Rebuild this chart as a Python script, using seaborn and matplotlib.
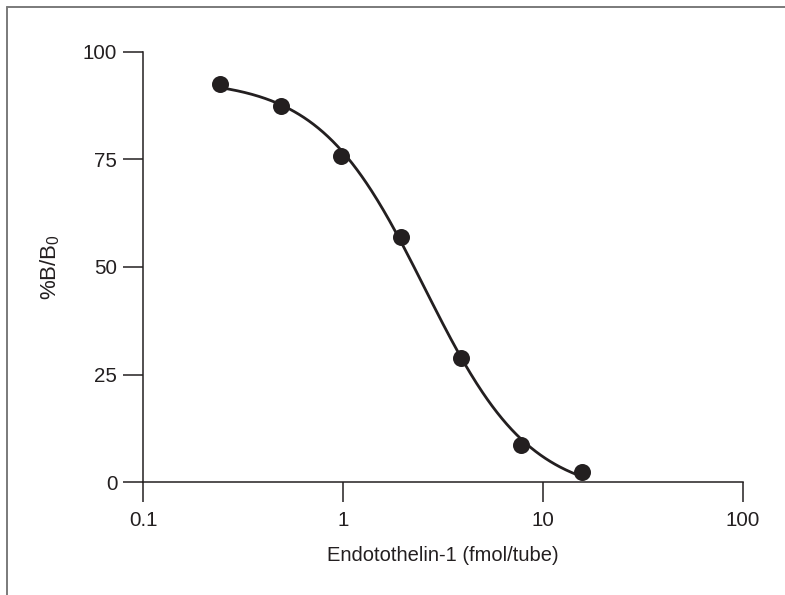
import numpy as np
import pandas as pd
import matplotlib
matplotlib.use("Agg")
import matplotlib.pyplot as plt
from matplotlib.lines import Line2D
import seaborn as sns

# Standard curve: Endothelin-1 amount per tube vs. percent bound
conc_fmol = [0.244, 0.488, 0.977, 1.95, 3.9, 7.8, 15.6]
pct_bound = [92.5, 87.4, 75.8, 57.0, 28.9, 8.7, 2.3]
x_ticks = [0.1, 1, 10, 100]
x_tick_labels = ["0.1", "1", "10", "100"]
y_ticks = [0, 25, 50, 75, 100]

ink = "#231f20"

sns.set_theme(style="white")
plt.rcParams["font.family"] = ["Liberation Sans", "DejaVu Sans"]
plt.rcParams["mathtext.fontset"] = "custom"
plt.rcParams["mathtext.rm"] = "Liberation Sans"
plt.rcParams["mathtext.it"] = "Liberation Sans"


def four_pl(x, bottom, top, c, h):
    return bottom + (top - bottom) / (1.0 + (x / c) ** h)


def fit_four_pl(x, y):
    """Grid search over midpoint and slope; top/bottom solved by least squares."""
    x = np.asarray(x, float)
    y = np.asarray(y, float)
    best = None
    for logc in np.arange(-0.2, 1.2, 0.004):
        c = 10 ** logc
        for h in np.arange(0.5, 3.0, 0.01):
            f = 1.0 / (1.0 + (x / c) ** h)
            A = np.column_stack([np.ones_like(x), f])
            coef, *_ = np.linalg.lstsq(A, y, rcond=None)
            sse = np.sum((A @ coef - y) ** 2)
            if best is None or sse < best[0]:
                best = (sse, coef[0], coef[0] + coef[1], c, h)
    return best[1:]


bottom, top, c50, hill = fit_four_pl(conc_fmol, pct_bound)
x_fit = np.logspace(np.log10(conc_fmol[0]), np.log10(conc_fmol[-1]), 300)
fit_df = pd.DataFrame({"conc": x_fit, "pct": four_pl(x_fit, bottom, top, c50, hill)})
pts_df = pd.DataFrame({"conc": conc_fmol, "pct": pct_bound})

fig = plt.figure(figsize=(7.85, 5.95), dpi=100)
ax = fig.add_axes([143 / 785, 1 - 482.3 / 595, 600 / 785, 430.6 / 595])

sns.lineplot(data=fit_df, x="conc", y="pct", ax=ax, color=ink, linewidth=2.0,
             sort=False, estimator=None)
sns.scatterplot(data=pts_df, x="conc", y="pct", ax=ax, color=ink, s=150,
                edgecolor=ink, linewidth=0, zorder=3, clip_on=False)

ax.set_xscale("log")
ax.set_xlim(0.1, 100)
ax.set_ylim(0, 100)
ax.set_xticks(x_ticks)
ax.set_xticklabels(x_tick_labels)
ax.xaxis.set_minor_locator(matplotlib.ticker.NullLocator())
ax.set_yticks(y_ticks)

for side in ("top", "right"):
    ax.spines[side].set_visible(False)
for side in ("left", "bottom"):
    ax.spines[side].set_color(ink)
    ax.spines[side].set_linewidth(1.1)

ax.tick_params(axis="both", which="major", direction="out", length=14.5,
               width=1.1, color=ink, labelsize=14.8, labelcolor=ink, pad=4,
               left=True, bottom=True)
ax.tick_params(axis="x", pad=6)

ax.set_xlabel("Endotothelin-1 (fmol/tube)", fontsize=14.5, color=ink, labelpad=12)
ax.set_ylabel(r"%B/B$_0$", fontsize=16, color=ink, labelpad=15)

# Outer frame lines along the top and left edges
frame_kw = dict(color="#7a7a7a", linewidth=1.4, transform=fig.transFigure)
fig.add_artist(Line2D([7 / 785, 1.0], [1 - 6.5 / 595, 1 - 6.5 / 595], **frame_kw))
fig.add_artist(Line2D([7 / 785, 7 / 785], [0.0, 1 - 6.5 / 595], **frame_kw))

fig.savefig("out.png", dpi=100)
